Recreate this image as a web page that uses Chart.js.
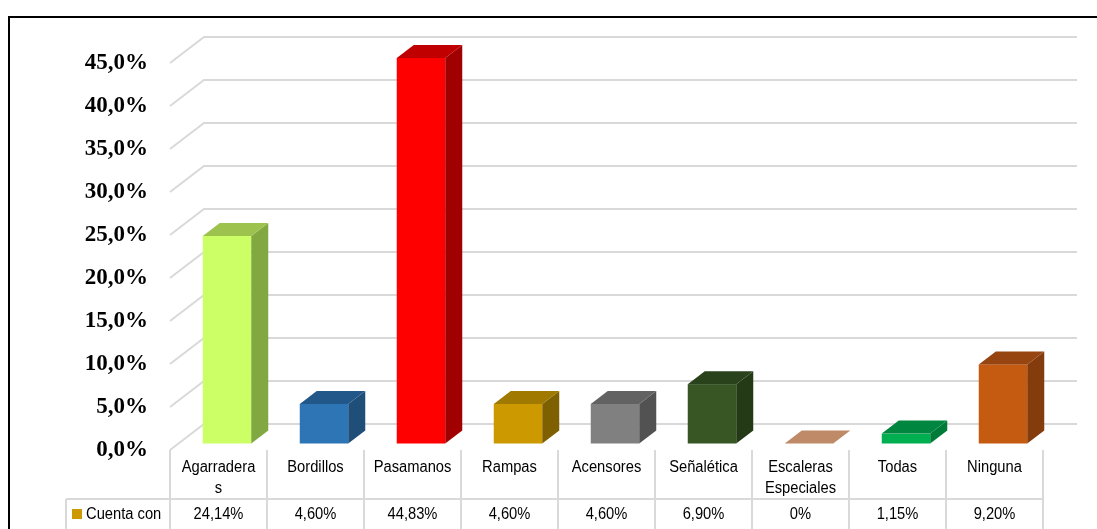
<!DOCTYPE html>
<html lang="es">
<head>
<meta charset="utf-8">
<title>Cuenta con</title>
<script src="https://cdn.jsdelivr.net/npm/chart.js@4.4.1/dist/chart.umd.min.js"></script>
<style>
  html, body { margin: 0; padding: 0; background: #fff; }
  #wrap { position: relative; width: 1097px; height: 529px; }
</style>
</head>
<body>
<div id="wrap"><canvas id="chart"></canvas></div>
<script>
const categories = ['Agarraderas', 'Bordillos', 'Pasamanos', 'Rampas', 'Acensores', 'Señalética', 'Escaleras Especiales', 'Todas', 'Ninguna'];
const seriesName = 'Cuenta con';
const values = [24.14, 4.60, 44.83, 4.60, 4.60, 6.90, 0, 1.15, 9.20];
const yTicks = [0, 5, 10, 15, 20, 25, 30, 35, 40, 45];

// face colours for each bar: front, top, right side
const frontColors = ['#ccff66', '#2e75b6', '#ff0000', '#cc9900', '#808080', '#375623', '#f4b183', '#00b050', '#c55a11'];
const topColors   = ['#9dc24e', '#22578a', '#c00000', '#a07a00', '#626262', '#2a421b', '#bf8a68', '#00863f', '#974510'];
const sideColors  = ['#82a842', '#1f4e79', '#a00000', '#7f6000', '#525252', '#243a16', '#9a6c4e', '#007a37', '#843c0c'];
const legendColor = '#cc9900';

const DX = 34, DY = -26;          // depth of the floor / walls
const GRID = '#d9d9d9';
const TABLE_FONT = '16px "Liberation Sans", Arial, sans-serif';
const SQUEEZE = 0.92;             // slightly narrow table text

function fmtAxis(v) { return v.toFixed(1).replace('.', ',') + '%'; }
function fmtValue(v) { return v === 0 ? '0%' : v.toFixed(2).replace('.', ',') + '%'; }

function textW(ctx, s) { return ctx.measureText(s).width * SQUEEZE; }

function wrapText(ctx, text, maxWidth) {
  const lines = [];
  let cur = '';
  text.split(' ').forEach(word => {
    const test = cur ? cur + ' ' + word : word;
    if (textW(ctx, test) <= maxWidth) { cur = test; return; }
    if (cur) lines.push(cur);
    cur = '';
    // word alone too long: break it by characters
    for (const ch of word) {
      if (textW(ctx, cur + ch) > maxWidth && cur) { lines.push(cur); cur = ''; }
      cur += ch;
    }
  });
  if (cur) lines.push(cur);
  return lines;
}

function drawText(ctx, s, x, y) {
  ctx.save();
  ctx.translate(x, y);
  ctx.scale(SQUEEZE, 1);
  ctx.fillText(s, 0, 0);
  ctx.restore();
}

function poly(ctx, pts, color) {
  ctx.beginPath();
  ctx.moveTo(pts[0][0], pts[0][1]);
  for (let i = 1; i < pts.length; i++) ctx.lineTo(pts[i][0], pts[i][1]);
  ctx.closePath();
  ctx.fillStyle = color;
  ctx.fill();
}

const bars3d = {
  id: 'bars3d',
  beforeDatasetsDraw(chart) {
    // side wall + back wall grid lines
    const { ctx, chartArea: a, scales: { y } } = chart;
    ctx.save();
    ctx.strokeStyle = GRID;
    ctx.lineWidth = 2;
    y.ticks.forEach(t => {
      const py = y.getPixelForValue(t.value);
      ctx.beginPath();
      ctx.moveTo(a.left, py);
      ctx.lineTo(a.left + DX, py + DY);
      ctx.lineTo(a.right + DX, py + DY);
      ctx.stroke();
    });
    ctx.restore();
  },
  beforeDatasetDraw() {
    return false;
  },
  afterDatasetsDraw(chart) {
    const ctx = chart.ctx;
    const meta = chart.getDatasetMeta(0);
    const fx = DX * 0.25, fy = DY * 0.25, sx = DX * 0.5, sy = DY * 0.5;
    ctx.save();
    meta.data.forEach((bar, i) => {
      const { x, y, base, width } = bar.getProps(['x', 'y', 'base', 'width'], true);
      const l = x - width / 2 + fx, r = x + width / 2 + fx;
      const t = y + fy, b = base + fy;
      if (b - t > 0.5) {
        ctx.fillStyle = frontColors[i];
        ctx.fillRect(l, t, r - l, b - t);
        poly(ctx, [[r, t], [r + sx, t + sy], [r + sx, b + sy], [r, b]], sideColors[i]);
      }
      poly(ctx, [[l, t], [l + sx, t + sy], [r + sx, t + sy], [r, t]], topColors[i]);
    });
    ctx.restore();
  },
  afterDraw(chart) {
    const { ctx, chartArea: a, scales: { x } } = chart;
    const colW = (a.right - a.left) / categories.length;
    const rowY = a.bottom + 49;
    const legendLeft = 66;
    const H = chart.height;

    ctx.save();
    ctx.strokeStyle = GRID;
    ctx.lineWidth = 2;
    for (let i = 0; i <= categories.length; i++) {
      const bx = Math.round(a.left + i * colW);
      ctx.beginPath();
      ctx.moveTo(bx, a.bottom);
      ctx.lineTo(bx, H);
      ctx.stroke();
    }
    ctx.beginPath();
    ctx.moveTo(legendLeft, rowY);
    ctx.lineTo(a.right, rowY);
    ctx.moveTo(legendLeft, rowY);
    ctx.lineTo(legendLeft, H);
    ctx.stroke();

    // category labels and values
    ctx.font = TABLE_FONT;
    ctx.fillStyle = '#000';
    ctx.textAlign = 'center';
    ctx.textBaseline = 'middle';
    categories.forEach((c, i) => {
      const cx = x.getPixelForValue(i);
      wrapText(ctx, c, 81).forEach((line, k) => {
        drawText(ctx, line, cx, a.bottom + 18 + k * 21);
      });
      drawText(ctx, fmtValue(values[i]), cx, rowY + 16);
    });

    // legend key
    ctx.fillStyle = legendColor;
    ctx.fillRect(72, rowY + 10, 10, 10);
    ctx.fillStyle = '#000';
    ctx.textAlign = 'left';
    drawText(ctx, seriesName, 86, rowY + 16);

    // outer frame
    ctx.strokeStyle = '#000';
    ctx.lineWidth = 2;
    ctx.beginPath();
    ctx.moveTo(9, H);
    ctx.lineTo(9, 17);
    ctx.lineTo(chart.width, 17);
    ctx.stroke();
    ctx.restore();
  }
};

new Chart(document.getElementById('chart'), {
  type: 'bar',
  data: {
    labels: categories,
    datasets: [{
      label: seriesName,
      data: values,
      backgroundColor: frontColors,
      categoryPercentage: 1,
      barPercentage: 0.5
    }]
  },
  options: {
    responsive: true,
    maintainAspectRatio: false,
    animation: false,
    layout: { padding: { left: 0, top: 63, right: 54, bottom: 79 } },
    plugins: {
      legend: { display: false },
      tooltip: { enabled: false }
    },
    scales: {
      x: { display: false },
      y: {
        min: 0,
        max: 45,
        afterBuildTicks: s => { s.ticks = yTicks.map(v => ({ value: v })); },
        afterFit: s => { s.width = 170; },
        grid: { display: false, drawTicks: false },
        border: { display: false },
        ticks: {
          padding: 22,
          color: '#000',
          font: { family: '"Liberation Serif", "Times New Roman", serif', size: 23, weight: 'bold' },
          callback: v => fmtAxis(v)
        }
      }
    }
  },
  plugins: [bars3d]
});
</script>
</body>
</html>
